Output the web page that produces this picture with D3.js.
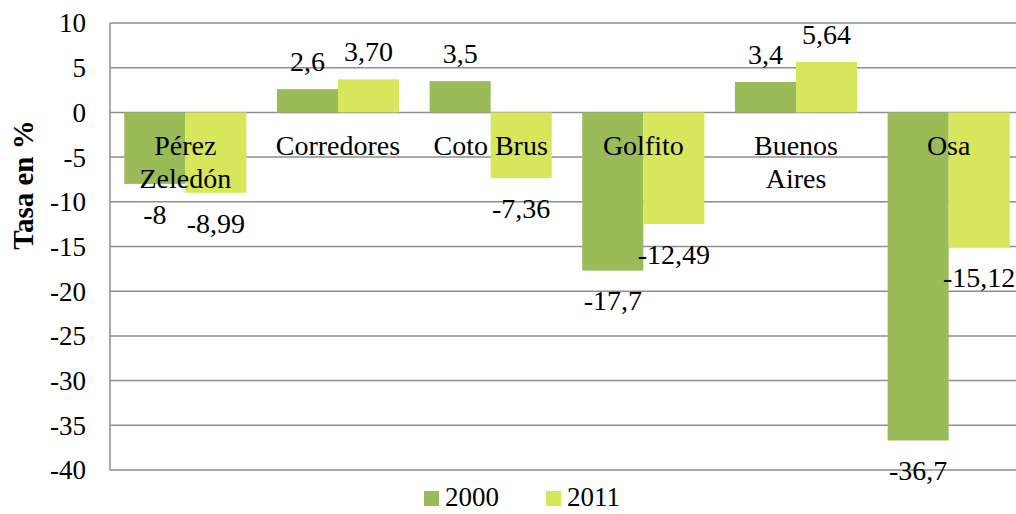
<!DOCTYPE html>
<html>
<head>
<meta charset="utf-8">
<script src="https://cdn.jsdelivr.net/npm/d3@7"></script>
<style>
  body { margin: 0; background: #fff; }
</style>
</head>
<body>
<div id="chart"></div>
<script>
const categories = ['Pérez Zeledón', 'Corredores', 'Coto Brus', 'Golfito', 'Buenos Aires', 'Osa'];
// how each category label is broken into lines
const categoryLines = [['Pérez', 'Zeledón'], ['Corredores'], ['Coto Brus'], ['Golfito'], ['Buenos', 'Aires'], ['Osa']];
const seriesNames = ['2000', '2011'];
const values2000 = [-8, 2.6, 3.5, -17.7, 3.4, -36.7];
const values2011 = [-8.99, 3.70, -7.36, -12.49, 5.64, -15.12];
const labels2000 = ['-8', '2,6', '3,5', '-17,7', '3,4', '-36,7'];
const labels2011 = ['-8,99', '3,70', '-7,36', '-12,49', '5,64', '-15,12'];
const yTicks = [10, 5, 0, -5, -10, -15, -20, -25, -30, -35, -40];

const width = 1016;
const height = 514;
const colors = ['#9bbb59', '#d7e75b'];
const serif = 'Liberation Serif, DejaVu Serif, serif';
const fontSize = '28px';

const svg = d3.select('#chart')
  .append('svg')
    .attr('width', width)
    .attr('height', height)
    .style('font-family', serif);

const x = d3.scaleBand()
  .domain(categories)
  .range([109, 1025])
  .paddingInner(0.2)
  .paddingOuter(0.1);

const xSub = d3.scaleBand()
  .domain(seriesNames)
  .range([0, x.bandwidth()]);

const y = d3.scaleLinear()
  .domain([-40, 10])
  .range([470, 23]);

// gridlines
svg.append('g')
    .selectAll('line')
    .data(yTicks)
    .join('line')
      .attr('x1', 110)
      .attr('x2', width)
      .attr('y1', d => y(d))
      .attr('y2', d => y(d))
      .attr('stroke', '#8e8e8e')
      .attr('stroke-width', 1.5);

// left axis line
svg.append('line')
    .attr('x1', 110).attr('x2', 110)
    .attr('y1', y(10)).attr('y2', y(-40))
    .attr('stroke', '#8e8e8e')
    .attr('stroke-width', 1.5);

// tick labels
svg.append('g')
  .selectAll('text')
  .data(yTicks)
  .join('text')
    .attr('x', 86)
    .attr('y', d => y(d))
    .attr('dy', '0.35em')
    .attr('text-anchor', 'end')
    .style('font-size', '27px')
    .text(d => d);

// bars
const rows = categories.map((c, i) => ({ cat: c, vals: [values2000[i], values2011[i]], labels: [labels2000[i], labels2011[i]] }));

const groups = svg.append('g')
  .selectAll('g')
  .data(rows)
  .join('g')
    .attr('transform', d => `translate(${x(d.cat)},0)`);

groups.selectAll('rect')
  .data(d => d.vals.map((v, j) => ({ name: seriesNames[j], v })))
  .join('rect')
    .attr('x', d => xSub(d.name))
    .attr('width', xSub.bandwidth())
    .attr('y', d => y(Math.max(0, d.v)))
    .attr('height', d => Math.abs(y(d.v) - y(0)))
    .attr('fill', (d, j) => colors[j]);

// category labels (drawn over the bars)
svg.append('g')
  .selectAll('text')
  .data(categories)
  .join('text')
    .attr('x', d => x(d) + x.bandwidth() / 2)
    .attr('y', 155)
    .attr('text-anchor', 'middle')
    .style('font-size', fontSize)
    .each(function(d, i) {
      d3.select(this).selectAll('tspan')
        .data(categoryLines[i])
        .join('tspan')
          .attr('x', x(d) + x.bandwidth() / 2)
          .attr('dy', (t, k) => k === 0 ? 0 : 33)
          .text(t => t);
    });

// data labels
groups.selectAll('text.val')
  .data(d => d.vals.map((v, j) => ({ name: seriesNames[j], v, label: d.labels[j] })))
  .join('text')
    .attr('class', 'val')
    .attr('x', d => xSub(d.name) + xSub.bandwidth() / 2)
    .attr('y', d => y(d.v) + (d.v < 0 ? 30 : -28))
    .attr('dy', '0.35em')
    .attr('text-anchor', 'middle')
    .style('font-size', fontSize)
    .text(d => d.label);

// y axis title
svg.append('text')
    .attr('transform', 'translate(33,185) rotate(-90)')
    .attr('text-anchor', 'middle')
    .style('font-size', '29px')
    .style('font-weight', 'bold')
    .text('Tasa en %');

// legend
const legend = svg.append('g')
  .selectAll('g')
  .data(seriesNames)
  .join('g')
    .attr('transform', (d, i) => `translate(${424 + i * 122},491)`);

legend.append('rect')
    .attr('width', 15)
    .attr('height', 15)
    .attr('fill', (d, i) => colors[i]);

legend.append('text')
    .attr('x', 21)
    .attr('y', 15)
    .style('font-size', '27px')
    .text(d => d);
</script>
</body>
</html>
